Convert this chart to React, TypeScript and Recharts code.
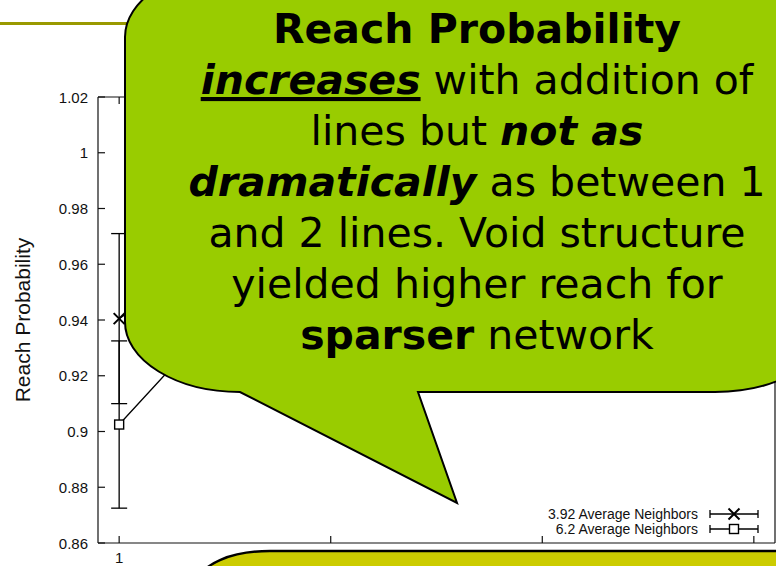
import React from 'react';
import { LineChart, Line, XAxis, YAxis, ErrorBar, Legend } from 'recharts';

// reach probability vs. number of lines, two network densities
const lineCounts = [1, 2, 3, 4];
const sparseReach = [0.9405, 0.993, 0.997, 0.998];
const sparseSpread = [0.0305, 0.007, 0.004, 0.003];
const denseReach = [0.9025, 0.985, 0.991, 0.994];
const denseSpread = [0.03, 0.009, 0.006, 0.004];
const seriesNames = ['3.92 Average Neighbors', '6.2 Average Neighbors'];
const xTicks = [1, 2, 3, 4];
const yTicks = [0.86, 0.88, 0.9, 0.92, 0.94, 0.96, 0.98, 1, 1.02];

const data = lineCounts.map((n, i) => ({
  lines: n,
  sparse: sparseReach[i],
  sparseErr: sparseSpread[i],
  dense: denseReach[i],
  denseErr: denseSpread[i],
}));

const W = 776;
const H = 566;
const PLOT = { left: 98, right: 775, top: 97, bottom: 543 };
const TICK = 7;
const INK = '#111';
const AXIS_FONT = '"Liberation Sans", Arial, sans-serif';
const NOTE_FONT = '"DejaVu Sans", Verdana, sans-serif';

const fmtY = (v: number) => String(Number(v.toFixed(2)));

const LeftTick = (props: any) => {
  const { y, payload } = props;
  return (
    <g>
      <line x1={PLOT.left} x2={PLOT.left + TICK} y1={y} y2={y} stroke={INK} strokeWidth={1.2} />
      <text x={PLOT.left - 10} y={y} textAnchor="end" dominantBaseline="central"
        fontFamily={AXIS_FONT} fontSize={15} fill={INK}>{fmtY(payload.value)}</text>
    </g>
  );
};

const RightTick = (props: any) => (
  <line x1={PLOT.right} x2={PLOT.right - TICK} y1={props.y} y2={props.y} stroke={INK} strokeWidth={1.2} />
);

const BottomTick = (props: any) => {
  const { x, payload } = props;
  return (
    <g>
      <line x1={x} x2={x} y1={PLOT.bottom} y2={PLOT.bottom - TICK} stroke={INK} strokeWidth={1.2} />
      <text x={x} y={PLOT.bottom + 20} textAnchor="middle"
        fontFamily={AXIS_FONT} fontSize={15} fill={INK}>{payload.value}</text>
    </g>
  );
};

const TopTick = (props: any) => (
  <line x1={props.x} x2={props.x} y1={PLOT.top} y2={PLOT.top + TICK} stroke={INK} strokeWidth={1.2} />
);

const YTitle = (props: any) => {
  const vb = props.viewBox || {};
  const cy = vb.height ? vb.y + vb.height / 2 : (PLOT.top + PLOT.bottom) / 2;
  const cx = 22;
  return (
    <text x={cx} y={cy} textAnchor="middle" dominantBaseline="central"
      transform={`rotate(-90, ${cx}, ${cy})`} fontFamily={AXIS_FONT} fontSize={21} fill={INK}>
      Reach Probability
    </text>
  );
};

const CrossMark = ({ cx, cy, r = 5.5 }: { cx: number; cy: number; r?: number }) => (
  <g stroke="#000" strokeWidth={2}>
    <line x1={cx - r} y1={cy - r} x2={cx + r} y2={cy + r} />
    <line x1={cx - r} y1={cy + r} x2={cx + r} y2={cy - r} />
  </g>
);

const SquareMark = ({ cx, cy, r = 4.5 }: { cx: number; cy: number; r?: number }) => (
  <rect x={cx - r} y={cy - r} width={r * 2} height={r * 2} fill="#fff" stroke="#000" strokeWidth={1.4} />
);

const crossDot = (p: any) => <CrossMark key={`c-${p.index}`} cx={p.cx} cy={p.cy} />;
const squareDot = (p: any) => <SquareMark key={`s-${p.index}`} cx={p.cx} cy={p.cy} />;

const KeyBox = (props: any) => {
  const items = props.payload && props.payload.length ? props.payload.map((e: any) => e.value) : seriesNames;
  return (
    <svg width={260} height={32}>
      {items.map((name: string, i: number) => {
        const cy = 7 + i * 15;
        return (
          <g key={name}>
            <text x={182} y={cy} textAnchor="end" dominantBaseline="central"
              fontFamily={AXIS_FONT} fontSize={14} fill={INK}>{name}</text>
            <g stroke="#000" strokeWidth={1.3}>
              <line x1={194} x2={242} y1={cy} y2={cy} />
              <line x1={194} x2={194} y1={cy - 4} y2={cy + 4} />
              <line x1={242} x2={242} y1={cy - 4} y2={cy + 4} />
            </g>
            {i === 0 ? <CrossMark cx={218} cy={cy} /> : <SquareMark cx={218} cy={cy} />}
          </g>
        );
      })}
    </svg>
  );
};

const noteLines = [
  [{ t: 'Reach Probability', b: true }],
  [{ t: 'increases', b: true, i: true, u: true }, { t: ' with addition of' }],
  [{ t: 'lines but ' }, { t: 'not as', b: true, i: true }],
  [{ t: 'dramatically', b: true, i: true }, { t: ' as between 1' }],
  [{ t: 'and 2 lines. Void structure' }],
  [{ t: 'yielded higher reach for' }],
  [{ t: 'sparser', b: true }, { t: ' network' }],
];

// rounded callout with a tail pointing down into the plot
const calloutPath = (() => {
  const L = 125, R = 830, T = -33, B = 392, rx = 115, ry = 70;
  return [
    `M ${L} ${T + ry}`,
    `A ${rx} ${ry} 0 0 1 ${L + rx} ${T}`,
    `H ${R - rx}`,
    `A ${rx} ${ry} 0 0 1 ${R} ${T + ry}`,
    `V ${B - ry}`,
    `A ${rx} ${ry} 0 0 1 ${R - rx} ${B}`,
    'H 418',
    'L 457 503',
    `L ${L + rx} ${B}`,
    `A ${rx} ${ry} 0 0 1 ${L} ${B - ry}`,
    'Z',
  ].join(' ');
})();

const Overlay = () => (
  <svg width={W} height={H} style={{ position: 'absolute', left: 0, top: 0, pointerEvents: 'none' }}>
    <rect x={0} y={22} width={140} height={3} fill="#999900" />
    <path d={calloutPath} fill="#99CC00" stroke="#000" strokeWidth={2} />
    <text x={477} fontFamily={NOTE_FONT} fontSize={41} fill="#000" textAnchor="middle" style={{ whiteSpace: 'pre' }}>
      {noteLines.map((segs, li) => (
        <tspan key={li} x={477} y={43 + li * 51}>
          {segs.map((s: any, si) => (
            <tspan key={si} fontWeight={s.b ? 'bold' : 'normal'} fontStyle={s.i ? 'italic' : 'normal'}
              textDecoration={s.u ? 'underline' : undefined}>{s.t}</tspan>
          ))}
        </tspan>
      ))}
    </text>
    <rect x={200} y={551} width={640} height={120} rx={70} ry={30} fill="#CCCC00" stroke="#000" strokeWidth={2.5} />
  </svg>
);

export default function App() {
  return (
    <div style={{ position: 'absolute', left: 0, top: 0, width: W, height: H, background: '#fff', overflow: 'hidden' }}>
      <LineChart width={W} height={H} data={data} margin={{ top: 0, right: 0, bottom: 0, left: 0 }}>
        <XAxis xAxisId="b" dataKey="lines" type="number" domain={[0.9, 4.1]} ticks={xTicks}
          height={23} tickSize={0} tickMargin={0} tick={<BottomTick />}
          axisLine={{ stroke: INK, strokeWidth: 1.2 }} />
        <XAxis xAxisId="t" orientation="top" dataKey="lines" type="number" domain={[0.9, 4.1]} ticks={xTicks}
          height={97} tickSize={0} tickMargin={0} tick={<TopTick />}
          axisLine={{ stroke: INK, strokeWidth: 1.2 }} />
        <YAxis yAxisId="l" type="number" domain={[0.86, 1.02]} ticks={yTicks} width={98}
          tickSize={0} tickMargin={10} tick={<LeftTick />} axisLine={{ stroke: INK, strokeWidth: 1.2 }}
          label={<YTitle />} />
        <YAxis yAxisId="r" orientation="right" type="number" domain={[0.86, 1.02]} ticks={yTicks} width={1}
          tickSize={0} tickMargin={0} tick={<RightTick />} axisLine={{ stroke: INK, strokeWidth: 1.2 }} />
        <Legend layout="vertical" align="center" verticalAlign="middle" content={<KeyBox />}
          wrapperStyle={{ position: 'absolute', left: 516, top: 507, width: 260, height: 32 }} />
        <Line xAxisId="b" yAxisId="l" name={seriesNames[0]} dataKey="sparse" type="linear" stroke="#000"
          strokeWidth={1.3} dot={crossDot} activeDot={false} isAnimationActive={false}>
          <ErrorBar dataKey="sparseErr" direction="y" width={8} stroke="#000" strokeWidth={1.3} isAnimationActive={false} />
        </Line>
        <Line xAxisId="b" yAxisId="l" name={seriesNames[1]} dataKey="dense" type="linear" stroke="#000"
          strokeWidth={1.3} dot={squareDot} activeDot={false} isAnimationActive={false}>
          <ErrorBar dataKey="denseErr" direction="y" width={8} stroke="#000" strokeWidth={1.3} isAnimationActive={false} />
        </Line>
      </LineChart>
      <Overlay />
    </div>
  );
}
